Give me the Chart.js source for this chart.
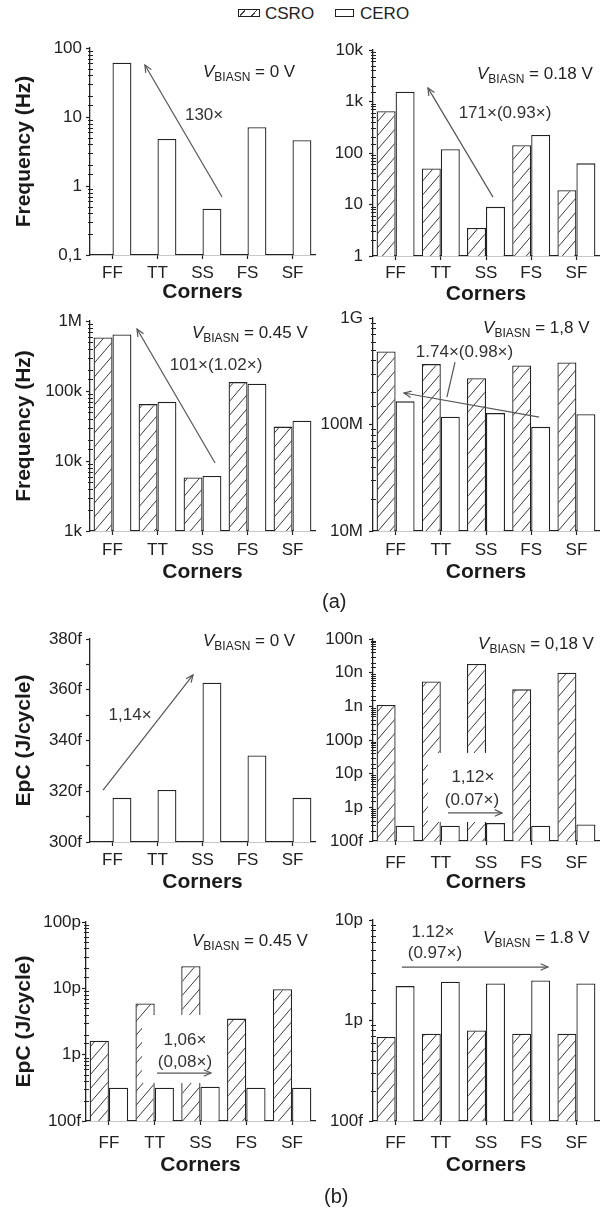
<!DOCTYPE html>
<html>
<head>
<meta charset="utf-8">
<script src="https://cdn.jsdelivr.net/npm/chart.js@4.4.1/dist/chart.umd.min.js"></script>
<style>
  html, body { margin: 0; padding: 0; background: #fff; }
  body {
    position: relative; width: 601px; height: 1208px; overflow: hidden;
    font-family: "Liberation Sans", Arial, sans-serif; color: #222;
  }
  canvas { position: absolute; }
  .sw { position: absolute; top: 9px; height: 6px; border: 1.3px solid #222; background: #fff; }
  .sw.hatch {
    background: repeating-linear-gradient(-50deg, #fff 0 5px, #444 5px 6.2px, #fff 6.2px 9px);
  }
  .lg { position: absolute; top: 5px; font-size: 17px; line-height: 17px; }
  .tag { position: absolute; font-size: 20px; line-height: 20px; }
</style>
</head>
<body>
<span class="sw hatch" style="left:238px;width:20px"></span>
<span class="lg" style="left:265px">CSRO</span>
<span class="sw" style="left:335px;width:17px"></span>
<span class="lg" style="left:360px">CERO</span>

<canvas id="f0" width="320" height="275" style="left:0;top:30px"></canvas>
<canvas id="f18" width="301" height="277" style="left:300px;top:30px"></canvas>
<canvas id="f45" width="320" height="280" style="left:0;top:305px"></canvas>
<canvas id="f180" width="301" height="285" style="left:300px;top:300px"></canvas>
<div class="tag" style="left:322px;top:591px">(a)</div>
<canvas id="e0" width="320" height="275" style="left:0;top:620px"></canvas>
<canvas id="e18" width="301" height="275" style="left:300px;top:620px"></canvas>
<canvas id="e45" width="320" height="278" style="left:0;top:900px"></canvas>
<canvas id="e180" width="301" height="278" style="left:300px;top:900px"></canvas>
<div class="tag" style="left:324px;top:1186px">(b)</div>

<script>
var corners = ["FF", "TT", "SS", "FS", "SF"];

// oscillation frequency, Hz
var freqCero0 = [61, 4.8, 0.47, 7.1, 4.6];
var freqCsro18 = [650, 50, 3.5, 141, 19];
var freqCero18 = [1550, 118, 9, 224, 63];
var freqCsro45 = [583e3, 65e3, 5.8e3, 134e3, 31e3];
var freqCero45 = [644e3, 70e3, 6.1e3, 127e3, 37.5e3];
var freqCsro180 = [485e6, 369e6, 272e6, 358e6, 382e6];
var freqCero180 = [165e6, 118.5e6, 128e6, 95e6, 125e6];

// energy per cycle, fJ
var epcCero0 = [317.4, 320.5, 362.8, 334.1, 317.4];
var epcCsro18 = [1.1e6, 5.5e6, 1.8e7, 3.2e6, 9.9e6];
var epcCero18 = [286, 286, 340, 286, 310];
var epcCsro45 = [1620, 5900, 21500, 3500, 9700];
var epcCero45 = [318, 318, 329, 318, 318];
var epcCsro180 = [687, 740, 795, 740, 740];
var epcCero180 = [2200, 2430, 2340, 2500, 2340];

// y tick labels: one per decade from the axis minimum (linear: one per 20f)
var ticksFreq0 = ["0,1", "1", "10", "100"];
var ticksFreq18 = ["1", "10", "100", "1k", "10k"];
var ticksFreq45 = ["1k", "10k", "100k", "1M"];
var ticksFreq180 = ["10M", "100M", "1G"];
var ticksEpc0 = ["300f", "320f", "340f", "360f", "380f"];
var ticksEpc18 = ["100f", "1p", "10p", "100p", "1n", "10n", "100n"];
var ticksEpc45 = ["100f", "1p", "10p", "100p"];
var ticksEpc180 = ["100f", "1p", "10p"];

Chart.defaults.font.family = "'Liberation Sans', Arial, sans-serif";
Chart.defaults.color = "#222";

var INK = "#222";
var NOTE = "#555";

function isDecade(v) {
  var k = Math.log10(v);
  return Math.abs(k - Math.round(k)) < 1e-6;
}

function hatchFor(ctx) {
  var t = document.createElement("canvas");
  t.width = 12; t.height = 14;
  var g = t.getContext("2d");
  g.fillStyle = "#fff";
  g.fillRect(0, 0, 12, 14);
  g.strokeStyle = "#3a3a3a";
  g.lineWidth = 1;
  [-12, 0, 12].forEach(function (o) {
    g.beginPath();
    g.moveTo(o, 14);
    g.lineTo(o + 12, 0);
    g.stroke();
  });
  return ctx.createPattern(t, "repeat");
}

// short ticks straddling the axis at 2..9 of each decade
var minorTicks = {
  id: "minorTicks",
  afterDraw: function (chart) {
    var s = chart.scales.y;
    if (s.type !== "logarithmic") return;
    var ctx = chart.ctx;
    ctx.save();
    ctx.strokeStyle = INK;
    ctx.lineWidth = 1;
    s.ticks.forEach(function (t) {
      if (isDecade(t.value)) return;
      var y = Math.round(s.getPixelForValue(t.value)) + 0.5;
      ctx.beginPath();
      ctx.moveTo(s.right - 2, y);
      ctx.lineTo(s.right + 3, y);
      ctx.stroke();
    });
    ctx.restore();
  }
};

function arrow(ctx, x1, y1, x2, y2) {
  ctx.beginPath();
  ctx.moveTo(x1, y1);
  ctx.lineTo(x2, y2);
  ctx.stroke();
  var a = Math.atan2(y2 - y1, x2 - x1), h = 8, w = 0.42;
  ctx.beginPath();
  ctx.moveTo(x2 - h * Math.cos(a - w), y2 - h * Math.sin(a - w));
  ctx.lineTo(x2, y2);
  ctx.lineTo(x2 - h * Math.cos(a + w), y2 - h * Math.sin(a + w));
  ctx.stroke();
}

function vbias(ctx, x, y, value) {
  var base = y + 6;
  ctx.textAlign = "left";
  ctx.textBaseline = "alphabetic";
  ctx.fillStyle = INK;
  ctx.font = "italic 17px 'Liberation Sans'";
  ctx.fillText("V", x, base);
  x += ctx.measureText("V").width;
  ctx.font = "12px 'Liberation Sans'";
  ctx.fillText("BIASN", x, base + 4);
  x += ctx.measureText("BIASN").width;
  ctx.font = "17px 'Liberation Sans'";
  ctx.fillText(" = " + value, x, base);
}

// notes are placed in fractions of the chart area
function notes(list) {
  return {
    id: "notes",
    afterDatasetsDraw: function (chart) {
      var a = chart.chartArea, ctx = chart.ctx;
      var W = a.right - a.left, H = a.bottom - a.top;
      function px(f) { return a.left + f * W; }
      function py(f) { return a.top + f * H; }
      ctx.save();
      list.forEach(function (n) {
        if (n.t === "box") {
          ctx.fillStyle = "#fff";
          ctx.fillRect(px(n.x1), py(n.y1), px(n.x2) - px(n.x1), py(n.y2) - py(n.y1));
        } else if (n.t === "arrow" || n.t === "line") {
          ctx.strokeStyle = NOTE;
          ctx.lineWidth = 1.2;
          if (n.t === "arrow") {
            arrow(ctx, px(n.x1), py(n.y1), px(n.x2), py(n.y2));
          } else {
            ctx.beginPath();
            ctx.moveTo(px(n.x1), py(n.y1));
            ctx.lineTo(px(n.x2), py(n.y2));
            ctx.stroke();
          }
        } else if (n.t === "text") {
          ctx.fillStyle = "#333";
          ctx.font = "17px 'Liberation Sans'";
          ctx.textAlign = "center";
          ctx.textBaseline = "middle";
          ctx.fillText(n.s, px(n.x), py(n.y));
        } else if (n.t === "vbias") {
          vbias(ctx, px(n.x), py(n.y), n.v);
        }
      });
      ctx.restore();
    }
  };
}

function panel(id, cfg) {
  var el = document.getElementById(id);
  var log = !cfg.linear;
  var labels = cfg.ticks;
  var yScale = {
    type: log ? "logarithmic" : "linear",
    min: cfg.min,
    max: cfg.max,
    border: { color: INK, width: 1.3 },
    grid: {
      drawOnChartArea: false,
      tickLength: 4,
      tickWidth: 1.2,
      tickColor: function (c) {
        if (!log) return INK;
        return c.tick && isDecade(c.tick.value) ? INK : "rgba(0,0,0,0)";
      }
    },
    ticks: {
      autoSkip: false,
      padding: cfg.yPad,
      font: { size: 17 },
      callback: function (v) {
        if (!log) {
          var s = (v - cfg.min) / 20;
          return Math.abs(s - Math.round(s)) < 1e-6 ? labels[Math.round(s)] : "";
        }
        var k = Math.log10(v / cfg.min), r = Math.round(k);
        return Math.abs(k - r) < 1e-6 ? labels[r] : "";
      }
    },
    title: {
      display: !!cfg.yTitle,
      text: cfg.yTitle || "",
      font: { size: 21, weight: "bold" },
      color: "#1a1a1a",
      padding: { top: 12, bottom: 0 }
    },
    afterFit: function (s) { s.width = cfg.yW; }
  };
  if (!log) yScale.ticks.stepSize = 10;

  var ctx = el.getContext("2d");
  return new Chart(el, {
    type: "bar",
    data: {
      labels: corners,
      datasets: [
        {
          label: "CSRO",
          data: cfg.csro || corners.map(function () { return null; }),
          backgroundColor: hatchFor(ctx),
          borderColor: INK,
          borderWidth: 1.3
        },
        {
          label: "CERO",
          data: cfg.cero,
          backgroundColor: "#fff",
          borderColor: INK,
          borderWidth: 1.3
        }
      ]
    },
    options: {
      responsive: false,
      devicePixelRatio: 1,
      animation: false,
      events: [],
      layout: { padding: { top: cfg.top, right: cfg.right, bottom: 0, left: 0 } },
      datasets: { bar: { categoryPercentage: 0.84, barPercentage: 1 } },
      plugins: { legend: { display: false }, tooltip: { enabled: false } },
      scales: {
        x: {
          border: { color: INK, width: 1.3 },
          grid: { offset: false, drawOnChartArea: false, tickLength: 4, tickWidth: 1.2, tickColor: INK },
          ticks: { font: { size: 17 }, padding: cfg.xPad, maxRotation: 0, autoSkip: false },
          title: {
            display: true,
            text: "Corners",
            font: { size: 21, weight: "bold" },
            color: "#1a1a1a",
            padding: 0
          },
          afterFit: function (s) { s.height = cfg.xH; }
        },
        y: yScale
      }
    },
    plugins: [minorTicks, notes(cfg.notes)]
  });
}

panel("f0", {
  cero: freqCero0, min: 0.1, max: 100, ticks: ticksFreq0, yTitle: "Frequency (Hz)",
  yW: 90, right: 5, top: 18, xH: 50, xPad: 4, yPad: 4,
  notes: [
    { t: "vbias", x: 0.502, y: 0.111, v: "0 V" },
    { t: "arrow", x1: 0.587, y1: 0.72, x2: 0.244, y2: 0.082 },
    { t: "text", x: 0.507, y: 0.324, s: "130×" }
  ]
});

panel("f18", {
  csro: freqCsro18, cero: freqCero18, min: 1, max: 1e4, ticks: ticksFreq18,
  yW: 73, right: 2, top: 20, xH: 51, xPad: 3, yPad: 6,
  notes: [
    { t: "vbias", x: 0.46, y: 0.112, v: "0.18 V" },
    { t: "arrow", x1: 0.531, y1: 0.714, x2: 0.243, y2: 0.184 },
    { t: "text", x: 0.584, y: 0.306, s: "171×(0.93×)" }
  ]
});

panel("f45", {
  csro: freqCsro45, cero: freqCero45, min: 1e3, max: 1e6, ticks: ticksFreq45, yTitle: "Frequency (Hz)",
  yW: 90, right: 5, top: 16, xH: 54, xPad: 5, yPad: 4,
  notes: [
    { t: "vbias", x: 0.453, y: 0.052, v: "0.45 V" },
    { t: "arrow", x1: 0.556, y1: 0.676, x2: 0.209, y2: 0.038 },
    { t: "text", x: 0.56, y: 0.21, s: "101×(1.02×)" }
  ]
});

panel("f180", {
  csro: freqCsro180, cero: freqCero180, min: 1e7, max: 1e9, ticks: ticksFreq180,
  yW: 73, right: 2, top: 18, xH: 54, xPad: 5, yPad: 6,
  notes: [
    { t: "vbias", x: 0.487, y: 0.042, v: "1,8 V" },
    { t: "arrow", x1: 0.735, y1: 0.465, x2: 0.137, y2: 0.352 },
    { t: "line", x1: 0.363, y1: 0.207, x2: 0.327, y2: 0.371 },
    { t: "text", x: 0.405, y: 0.16, s: "1.74×(0.98×)" }
  ]
});

panel("e0", {
  cero: epcCero0, linear: true, min: 300, max: 380, ticks: ticksEpc0, yTitle: "EpC (J/cycle)",
  yW: 90, right: 5, top: 19, xH: 53, xPad: 4, yPad: 4,
  notes: [
    { t: "vbias", x: 0.502, y: 0.005, v: "0 V" },
    { t: "arrow", x1: 0.058, y1: 0.744, x2: 0.458, y2: 0.177 },
    { t: "text", x: 0.178, y: 0.374, s: "1,14×" }
  ]
});

panel("e18", {
  csro: epcCsro18, cero: epcCero18, min: 100, max: 1e8, ticks: ticksEpc18,
  yW: 73, right: 2, top: 19, xH: 54, xPad: 8, yPad: 6,
  notes: [
    { t: "vbias", x: 0.465, y: 0.02, v: "0,18 V" },
    { t: "box", x1: 0.243, y1: 0.564, x2: 0.584, y2: 0.906 },
    { t: "text", x: 0.442, y: 0.683, s: "1,12×" },
    { t: "text", x: 0.438, y: 0.797, s: "(0.07×)" },
    { t: "arrow", x1: 0.332, y1: 0.861, x2: 0.571, y2: 0.861 }
  ]
});

panel("e45", {
  csro: epcCsro45, cero: epcCero45, min: 100, max: 1e5, ticks: ticksEpc45, yTitle: "EpC (J/cycle)",
  yW: 86, right: 5, top: 22, xH: 57, xPad: 8, yPad: 1,
  notes: [
    { t: "vbias", x: 0.463, y: 0.09, v: "0.45 V" },
    { t: "box", x1: 0.245, y1: 0.467, x2: 0.559, y2: 0.809 },
    { t: "text", x: 0.432, y: 0.593, s: "1,06×" },
    { t: "text", x: 0.432, y: 0.704, s: "(0,08×)" },
    { t: "arrow", x1: 0.31, y1: 0.759, x2: 0.546, y2: 0.759 }
  ]
});

panel("e180", {
  csro: epcCsro180, cero: epcCero180, min: 100, max: 1e4, ticks: ticksEpc180,
  yW: 73, right: 2, top: 20, xH: 57, xPad: 8, yPad: 6,
  notes: [
    { t: "vbias", x: 0.487, y: 0.085, v: "1.8 V" },
    { t: "text", x: 0.265, y: 0.06, s: "1.12×" },
    { t: "text", x: 0.274, y: 0.164, s: "(0.97×)" },
    { t: "arrow", x1: 0.128, y1: 0.234, x2: 0.774, y2: 0.234 }
  ]
});
</script>
</body>
</html>
